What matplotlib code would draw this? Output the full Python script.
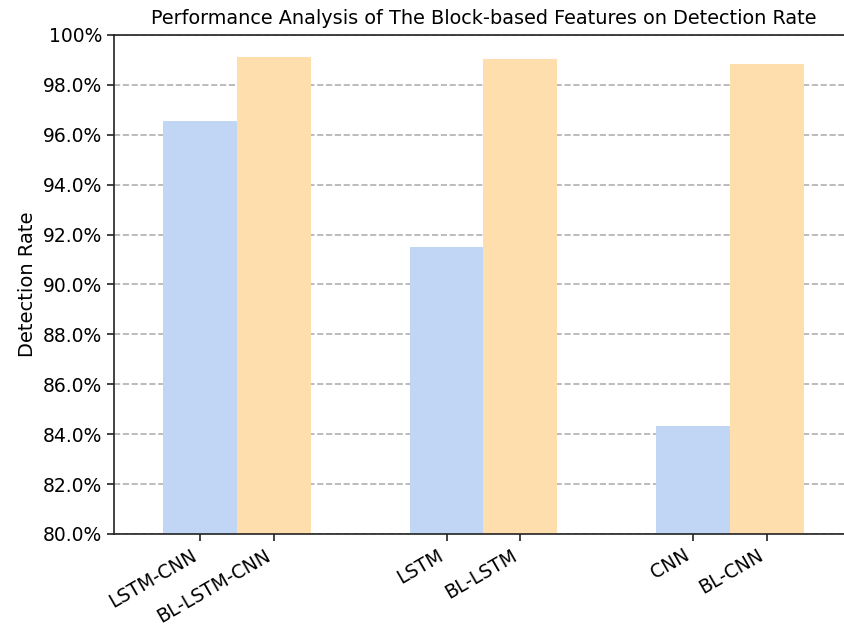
import numpy as np
import matplotlib
matplotlib.use("Agg")
import matplotlib.pyplot as plt

# 数据
groups = ["LSTM-CNN", "LSTM", "CNN"]
base_labels = ["LSTM-CNN", "LSTM", "CNN"]
bl_labels = ["BL-LSTM-CNN", "BL-LSTM", "BL-CNN"]
base_rate = [96.55, 91.5, 84.33]
bl_rate = [99.12, 99.05, 98.84]
yticks = np.arange(80, 100.1, 2)

width = 0.3
x = np.arange(len(groups))

fig = plt.figure(figsize=(8.44, 6.31), dpi=100)
ax = fig.add_axes([114 / 844, 97 / 631, (853 - 114) / 844, 499 / 631])

ax.bar(x - width / 2, base_rate, width, color="#c1d5f4", zorder=2)
ax.bar(x + width / 2, bl_rate, width, color="#fddeac", zorder=2)

ax.set_xlim(-0.5, 2.5)
ax.set_ylim(80, 100)
ax.set_yticks(yticks)
labels = [f"{v:.1f}%" for v in yticks]
labels[-1] = "100%"
ax.set_yticklabels(labels)

# 每根柱子下面一个标签
pos = np.ravel(np.column_stack([x - width / 2, x + width / 2]))
names = [n for pair in zip(base_labels, bl_labels) for n in pair]
ax.set_xticks(pos)
ax.set_xticklabels(names, rotation=30, ha="right")

ax.tick_params(labelsize=13.5, width=1.2, length=5, color="#222222")
ax.grid(axis="y", linestyle="--", color="#b0b0b0", linewidth=1.2, zorder=0)
ax.spines["right"].set_visible(False)
for s in ["left", "bottom", "top"]:
    ax.spines[s].set_linewidth(1.2)
    ax.spines[s].set_color("#222222")

ax.set_ylabel("Detection Rate", fontsize=14)
ax.set_title("Performance Analysis of The Block-based Features on Detection Rate",
             fontsize=13.9, pad=8)

fig.savefig("out.png", dpi=100)
